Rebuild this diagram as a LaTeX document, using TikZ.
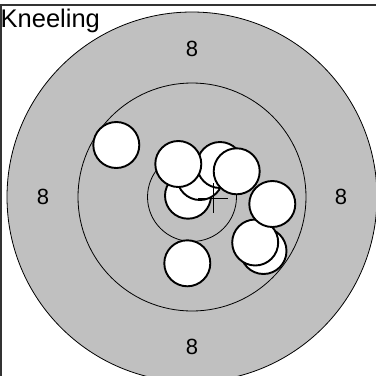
\documentclass[tikz,border=0pt]{standalone}
\usepackage{fontspec}
\setmainfont{Liberation Sans}
\usetikzlibrary{positioning}
\definecolor{tgtgray}{HTML}{C0C0C0}

\tikzset{
  shot/.style={circle, draw=black, fill=white, line width=1.9pt, minimum size=46pt, inner sep=0pt},
  ringlabel/.style={font=\fontsize{22}{22}\selectfont, inner sep=0pt},
}

\begin{document}
\begin{tikzpicture}[x=1pt, y=-1pt, line width=0.8pt]
    \useasboundingbox (0,0) rectangle (376,376);
    \clip (0,0) rectangle (376,376);
    % target face
    \filldraw[draw=black, fill=tgtgray] (192,197) circle[radius=185];
    \draw (192,197) circle[radius=114];
    \draw (192,197) circle[radius=44.5];
    \node[ringlabel] (lblN) at (192,49) {8};
    \node[ringlabel] (lblW) at (43,197) {8};
    \node[ringlabel] (lblE) at (341,197) {8};
    \node[ringlabel] (lblS) at (192,347) {8};
    % shots
    \foreach \x/\y [count=\i] in {116.3/145, 188/195.7, 200/177, 220/165, 178.3/164,
        236.7/171.3, 263.5/251, 255.2/242.5, 272.3/204, 187.3/263.3}{
      \node[shot] (shot\i) at (\x,\y) {};
    }
    % centre of the group
    \coordinate (mpi) at (213,198);
    \draw (mpi) ++(-15,0) -- ++(30,0);
    \draw (mpi) ++(0,-15) -- ++(0,30);
    % frame
    \draw[line width=2pt, black!80] (0,5) -- (376,5);
    \draw[line width=2pt, black!80] (1,5) -- (1,376);
    \node[font=\fontsize{25.5}{25.5}\selectfont, anchor=base west, inner sep=0pt] (title) at (0.3,27.3) {Kneeling};
\end{tikzpicture}
\end{document}
